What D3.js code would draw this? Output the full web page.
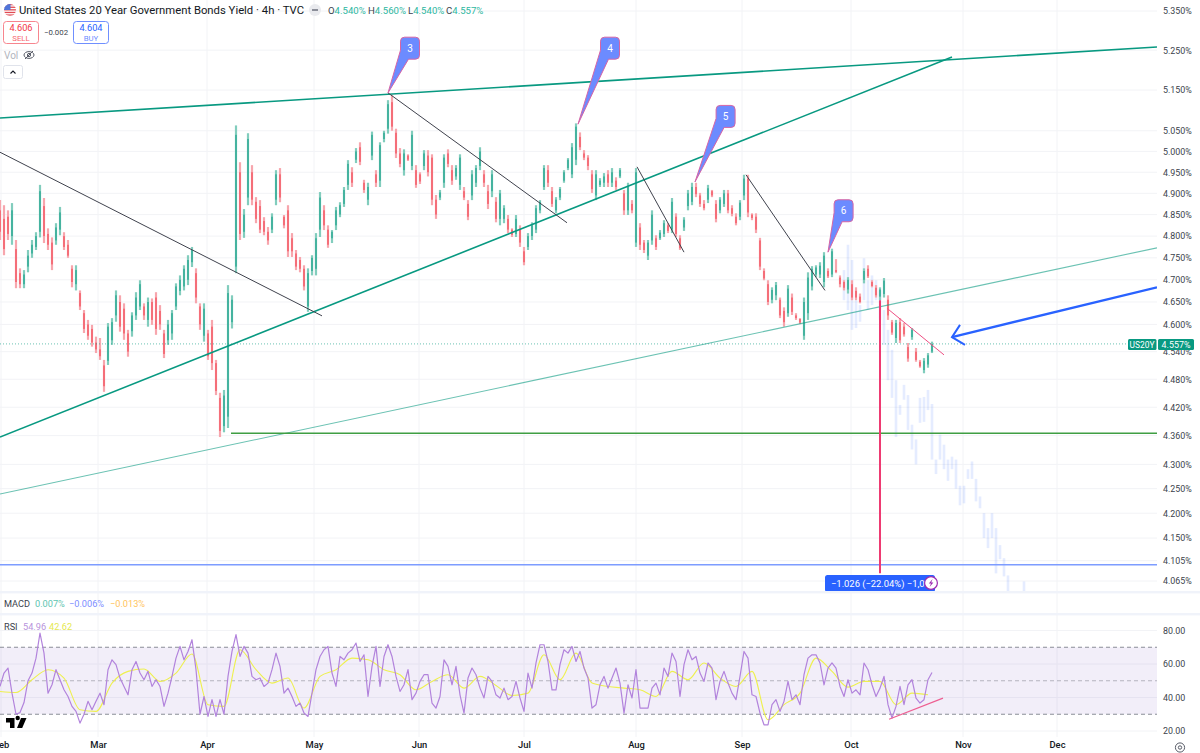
<!DOCTYPE html>
<html>
<head>
<meta charset="utf-8">
<title>US20Y</title>
<script src="https://cdn.jsdelivr.net/npm/d3@7/dist/d3.min.js"></script>
<style>
  html, body { margin: 0; padding: 0; background: #fff; overflow: hidden; }
  svg { display: block; font-family: Roboto, sans-serif; }
  .axis text { fill: #3b3f4c; font-size: 8.9px; font-family: Roboto, sans-serif; }
  .axis .domain { display: none; }
</style>
</head>
<body>
<div id="chart"></div>
<script>
// price candles, one column every 4px
const highs = [4.884,4.872,4.860,4.877,4.791,4.726,4.722,4.768,4.791,4.809,4.920,4.889,4.818,4.797,4.830,4.868,4.809,4.791,4.733,4.733,4.676,4.632,4.610,4.599,4.573,4.570,4.522,4.603,4.614,4.676,4.665,4.647,4.588,4.627,4.672,4.699,4.647,4.660,4.658,4.672,4.643,4.588,4.610,4.632,4.692,4.710,4.733,4.756,4.775,4.726,4.647,4.647,4.588,4.610,4.522,4.451,4.457,4.688,4.665,5.063,4.974,4.863,5.044,4.967,4.891,4.884,4.844,4.821,4.853,4.955,4.960,4.849,4.872,4.807,4.768,4.752,4.733,4.726,4.756,4.807,4.903,4.872,4.825,4.814,4.868,4.879,4.915,4.979,4.962,5.008,5.022,4.932,4.925,5.048,4.955,5.022,5.050,5.125,5.137,5.055,5.008,5.005,4.993,5.050,4.967,4.950,5.003,5.003,4.993,4.896,4.908,4.993,5.005,4.967,4.967,4.993,4.915,4.884,4.955,4.967,5.010,4.955,4.920,4.955,4.891,4.908,4.872,4.849,4.818,4.849,4.825,4.775,4.807,4.832,4.872,4.884,4.967,4.967,4.915,4.891,4.915,4.955,4.984,5.020,5.068,5.046,5.003,4.991,4.955,4.955,4.936,4.948,4.955,4.960,4.938,4.960,4.908,4.925,4.884,4.960,4.830,4.791,4.791,4.860,4.802,4.814,4.837,4.830,4.889,4.853,4.802,4.844,4.908,4.925,4.925,4.901,4.884,4.920,4.908,4.884,4.891,4.908,4.908,4.872,4.853,4.884,4.944,4.944,4.853,4.853,4.796,4.726,4.699,4.683,4.695,4.660,4.638,4.688,4.669,4.625,4.614,4.660,4.717,4.731,4.733,4.740,4.763,4.726,4.771,4.747,4.710,4.699,4.706,4.699,4.683,4.669,4.726,4.733,4.699,4.688,4.683,4.704,4.665,4.610,4.610,4.614,4.603,4.559,4.592,4.548,4.522,4.526,4.537,4.562];
const lows = [4.791,4.756,4.791,4.780,4.681,4.681,4.681,4.717,4.750,4.768,4.797,4.784,4.768,4.722,4.780,4.802,4.768,4.750,4.683,4.676,4.632,4.581,4.566,4.551,4.537,4.522,4.453,4.511,4.555,4.606,4.584,4.566,4.529,4.573,4.610,4.632,4.610,4.595,4.599,4.577,4.588,4.526,4.555,4.566,4.632,4.665,4.676,4.688,4.729,4.647,4.588,4.562,4.522,4.500,4.446,4.357,4.367,4.376,4.591,4.715,4.791,4.796,4.872,4.872,4.830,4.807,4.802,4.780,4.807,4.872,4.879,4.818,4.752,4.752,4.722,4.717,4.676,4.628,4.710,4.710,4.798,4.814,4.773,4.784,4.814,4.844,4.868,4.908,4.915,4.972,4.967,4.901,4.872,4.979,4.915,4.915,5.022,5.043,5.050,4.984,4.962,4.942,4.977,4.955,4.913,4.922,4.955,4.940,4.872,4.840,4.884,4.913,4.962,4.920,4.932,4.908,4.884,4.837,4.884,4.915,4.955,4.915,4.863,4.891,4.832,4.825,4.830,4.807,4.798,4.798,4.775,4.733,4.768,4.791,4.807,4.853,4.908,4.915,4.868,4.853,4.884,4.925,4.955,4.936,4.967,5.003,4.979,4.955,4.901,4.884,4.915,4.915,4.915,4.915,4.908,4.936,4.849,4.849,4.853,4.775,4.768,4.761,4.745,4.780,4.768,4.791,4.798,4.807,4.807,4.798,4.768,4.812,4.860,4.872,4.891,4.868,4.860,4.877,4.891,4.832,4.853,4.868,4.853,4.846,4.825,4.837,4.884,4.844,4.837,4.807,4.722,4.699,4.643,4.647,4.654,4.614,4.595,4.617,4.621,4.610,4.601,4.566,4.610,4.676,4.706,4.704,4.683,4.704,4.706,4.715,4.683,4.676,4.669,4.654,4.654,4.647,4.692,4.704,4.683,4.660,4.654,4.660,4.610,4.577,4.559,4.559,4.573,4.518,4.566,4.518,4.505,4.493,4.505,4.537];
const opens = [4.860,4.840,4.845,4.800,4.770,4.715,4.690,4.730,4.760,4.775,4.810,4.870,4.805,4.785,4.790,4.815,4.800,4.780,4.725,4.690,4.670,4.625,4.600,4.590,4.560,4.545,4.510,4.520,4.565,4.620,4.650,4.635,4.580,4.585,4.620,4.640,4.640,4.610,4.650,4.660,4.630,4.580,4.565,4.580,4.640,4.675,4.685,4.700,4.740,4.715,4.640,4.575,4.580,4.595,4.515,4.440,4.380,4.400,4.605,4.730,4.950,4.810,4.890,4.950,4.880,4.870,4.835,4.810,4.815,4.885,4.945,4.845,4.860,4.795,4.760,4.745,4.725,4.640,4.720,4.725,4.815,4.860,4.815,4.795,4.825,4.850,4.875,4.920,4.950,4.980,5.010,4.925,4.885,4.990,4.945,4.930,5.030,5.055,5.120,5.045,4.995,4.955,4.990,4.965,4.955,4.945,4.965,4.990,4.985,4.885,4.890,4.925,4.995,4.955,4.940,4.920,4.905,4.875,4.895,4.925,4.965,4.945,4.905,4.905,4.880,4.840,4.840,4.840,4.815,4.805,4.815,4.765,4.775,4.800,4.815,4.860,4.915,4.955,4.905,4.860,4.890,4.930,4.960,4.945,4.980,5.035,4.995,4.985,4.945,4.895,4.920,4.925,4.945,4.925,4.930,4.940,4.900,4.860,4.875,4.785,4.820,4.785,4.755,4.790,4.795,4.795,4.805,4.825,4.815,4.845,4.795,4.820,4.870,4.880,4.915,4.895,4.875,4.885,4.905,4.875,4.860,4.875,4.900,4.865,4.845,4.845,4.895,4.935,4.850,4.845,4.790,4.720,4.690,4.655,4.665,4.655,4.630,4.625,4.660,4.620,4.612,4.575,4.625,4.685,4.712,4.712,4.695,4.720,4.712,4.722,4.705,4.695,4.678,4.690,4.675,4.662,4.700,4.725,4.695,4.682,4.662,4.668,4.655,4.605,4.570,4.605,4.595,4.550,4.572,4.540,4.518,4.500,4.512,4.540];
const closes = [4.810,4.770,4.805,4.860,4.695,4.690,4.712,4.755,4.780,4.800,4.905,4.800,4.780,4.735,4.820,4.855,4.775,4.755,4.695,4.722,4.640,4.590,4.575,4.560,4.545,4.530,4.465,4.595,4.605,4.665,4.595,4.580,4.540,4.620,4.660,4.690,4.620,4.650,4.610,4.590,4.600,4.535,4.600,4.625,4.685,4.700,4.725,4.745,4.768,4.660,4.600,4.635,4.530,4.515,4.455,4.370,4.445,4.670,4.655,5.040,4.805,4.850,5.030,4.885,4.840,4.815,4.810,4.790,4.845,4.945,4.890,4.825,4.765,4.765,4.730,4.725,4.685,4.715,4.750,4.795,4.890,4.825,4.780,4.810,4.860,4.872,4.908,4.970,4.925,5.000,4.975,4.908,4.915,5.040,4.925,5.015,5.045,5.115,5.060,4.995,4.970,4.995,4.980,5.040,4.920,4.928,4.995,4.950,4.885,4.850,4.902,4.985,4.970,4.930,4.960,4.985,4.890,4.845,4.945,4.960,5.000,4.925,4.875,4.945,4.840,4.900,4.865,4.815,4.803,4.840,4.785,4.740,4.800,4.825,4.865,4.880,4.960,4.925,4.875,4.885,4.910,4.950,4.980,5.010,5.060,5.010,4.985,4.965,4.910,4.945,4.930,4.940,4.925,4.950,4.915,4.955,4.860,4.915,4.860,4.950,4.780,4.768,4.785,4.850,4.775,4.808,4.830,4.812,4.880,4.805,4.772,4.838,4.900,4.915,4.898,4.875,4.865,4.912,4.895,4.840,4.885,4.900,4.860,4.852,4.830,4.878,4.935,4.855,4.842,4.815,4.730,4.703,4.650,4.677,4.688,4.620,4.605,4.680,4.628,4.614,4.604,4.650,4.705,4.725,4.728,4.732,4.755,4.708,4.765,4.718,4.690,4.682,4.700,4.660,4.660,4.650,4.720,4.708,4.686,4.665,4.678,4.698,4.620,4.582,4.603,4.565,4.578,4.525,4.588,4.522,4.508,4.520,4.532,4.557];

// faded projected path, starts at bar 211
const ghostStart = 211;
const ghostHighs = [4.722,4.780,4.745,4.654,4.643,4.749,4.699,4.710,4.699,4.676,4.632,4.588,4.544,4.478,4.425,4.468,4.446,4.383,4.352,4.440,4.442,4.457,4.427,4.31,4.362,4.341,4.31,4.316,4.31,4.256,4.256,4.29,4.306,4.27,4.234,4.200,4.17,4.20,4.17,4.136,4.11,4.076,null,null,null,4.064];
const ghostLows = [4.654,4.632,4.588,4.592,4.606,4.654,4.632,4.643,4.654,4.610,4.555,4.478,4.44,4.357,4.404,4.436,4.372,4.331,4.30,4.387,4.389,4.414,4.31,4.28,4.31,4.29,4.266,4.29,4.25,4.216,4.22,4.27,4.27,4.224,4.21,4.15,4.13,4.15,4.08,4.108,4.074,4.04,null,null,null,4.04];

const rsiValues = [46.6,54.6,57.6,42.6,30,31,37,50,54.6,63.5,78.5,66.5,42.6,47.6,56.6,50.6,44.6,40.6,34.7,31.7,24.7,30,37.7,32.7,37.7,42.6,35.7,56.6,62.5,59.6,51.6,46.6,41.6,56.6,61.5,54.6,50.6,55.6,46.6,50.6,46.6,34.7,42.6,52.6,63.5,70.5,62.5,67.5,74.5,56.6,30,40.6,28.7,38.7,28.7,38.7,30,52.6,67.5,77.5,64.5,70.5,66.5,52.6,50.6,51.6,46.6,48.6,56.6,66.5,58.6,42.6,45.6,40.6,34.7,36.7,30.7,28.7,42.6,56.6,64.5,68.5,70.5,54.6,46.6,64.5,62.5,66.5,68.5,72.5,61.5,65.5,40.6,58.6,70.5,46.6,64.5,71.5,64.5,52.6,
  43.6,47.6,56.6,38.7,42.6,49.6,53.6,53.6,36.7,33.7,40.6,62.5,58.6,47.6,58.6,41.6,30.7,51.6,57.6,53.6,45.6,39.7,52.6,49.6,41.6,39.7,45.6,38.7,40.6,49.6,39.7,31.7,54.6,45.6,60.6,71.5,71.5,61.5,44.6,44.6,59.6,68.5,66.5,70.5,61.5,67.5,57.6,51.6,33.7,35.7,47.6,52.6,45.6,51.6,57.6,48.6,30.7,47.6,39.7,56.6,33.7,33.7,33.7,45.6,48.6,41.6,57.6,52.6,
  66.5,61.5,40.6,59.6,68.5,62.5,64.5,54.6,49.6,60.6,57.6,38.7,49.6,55.6,48.6,42.6,38.7,52.6,67.5,63.5,41.6,40.6,30.7,23.7,23.7,35.7,38.7,31.7,37.7,49.6,38.7,41.6,35.7,53.6,63.5,65.5,65.5,60.6,47.6,57.6,60.6,57.6,46.6,40.6,50.6,42.6,44.6,41.6,60.6,56.6,47.6,40.6,45.6,52.6,35.7,27.7,34.7,46.6,35.7,47.6,50.6,39.7,36.7,38.7,50.6,54.96];
// RSI moving average, one value every 4 bars
const rsiMaStep = 4;
const rsiMaValues = [43.6,43,50.6,56.6,51.6,32.7,31.7,48.6,55.6,57,49.6,54.6,66,35.7,34.7,68.5,56.6,48.6,51.6,33.7,52.6,56.6,63.5,62.5,56.6,
  53.6,44.6,49.6,53.6,45.6,52.6,47.2,41.2,42.6,65.5,50.6,66.5,48.6,46.6,45.6,44.6,40.6,
  55.6,50.6,60.6,51.6,46.6,55.6,26.7,35.7,42.6,63.5,55.6,46.2,49.6,49.6,35.7,42.6,41.6];

const priceTicks = [5.35,5.25,5.15,5.05,5.0,4.95,4.9,4.85,4.8,4.75,4.7,4.65,4.6,4.54,4.48,4.42,4.36,4.3,4.25,4.2,4.15,4.105,4.065];
const rsiTicks = [80,60,40,20];
const rsiBands = [70,50,30];
const monthLabels = ["Feb","Mar","Apr","May","Jun","Jul","Aug","Sep","Oct","Nov","Dec"];
const monthBars = [0.25,24.5,51.75,78.5,104.75,131,159,185.5,212.75,240.75,264.25];

// drawings, each end is [bar, yield]
const channelLines = [[[0,5.081],[289.25,5.258]],[[0,4.357],[238,5.233]]];
const thinChannel = [[0,4.239],[289.25,4.773]];
const blackLines = [
  [[0,4.998],[80.5,4.619]],
  [[97,5.143],[141.75,4.831]],
  [[159.25,4.963],[171,4.763]],
  [[186.5,4.944],[206.25,4.676]],
];
const pinkLine = [[221.75,4.636],[236,4.533]];
const supportYield = 4.365;
const supportStartBar = 57.75;
const targetYield = 4.097;
const lastPrice = 4.557;
const measureBar = 220;
const measureYields = [4.654,4.08];
const arrowShaft = [[289.25,4.683],[238,4.572]];
const arrowHead = [[240,4.599],[238,4.572],[241.25,4.555]];
const rsiTrend = [[222.25,27.0],[235.75,39.6]];

const calloutLabels = ["3","4","5","6"];
const calloutTips = [[97,5.143],[144.5,5.066],[173.75,4.927],[207,4.763]];
const calloutBoxes = [[102.5,5.255],[152.5,5.255],[181.4,5.085],[210.9,4.859]];

const width = 1200, height = 753;
const plotRight = 1157, axisX = 1163;
const pricePane = { top: 0, bottom: 591 };
const upWick = "#82cdbd", upBody = "#089981", downWick = "#f7a6ad", downBody = "#f23645";
const teal = "#089981", ink = "#131722", muted = "#3b3f4c";

const svg = d3.select("#chart").append("svg").attr("width", width).attr("height", height);

const x = d3.scaleLinear().domain([0, plotRight / 4]).range([0, plotRight]);
const y = d3.scaleLog().domain([4.065, 5.35]).range([581, 11]);
const rsiY = d3.scaleLinear().domain([20, 80]).range([731, 630.5]);

svg.append("defs").append("clipPath").attr("id", "price-clip")
  .append("rect").attr("width", plotRight).attr("height", pricePane.bottom);

// grid
svg.append("g").selectAll("line").data(monthBars).join("line")
  .attr("x1", d => x(d)).attr("x2", d => x(d)).attr("y1", 0).attr("y2", 737)
  .attr("stroke", "#f2f3f6");
svg.append("g").selectAll("line").data(priceTicks).join("line")
  .attr("x1", 0).attr("x2", plotRight).attr("y1", d => y(d)).attr("y2", d => y(d))
  .attr("stroke", "#f2f3f6");
svg.append("g").selectAll("line").data(rsiTicks).join("line")
  .attr("x1", 0).attr("x2", plotRight).attr("y1", d => rsiY(d)).attr("y2", d => rsiY(d))
  .attr("stroke", "#f2f3f6");

const price = svg.append("g").attr("clip-path", "url(#price-clip)");

// ghost path
price.append("g").selectAll("line")
  .data(ghostHighs.map((h, i) => ({ h, l: ghostLows[i], bar: ghostStart + i })).filter(d => d.h !== null))
  .join("line")
  .attr("x1", d => x(d.bar)).attr("x2", d => x(d.bar))
  .attr("y1", d => y(d.h)).attr("y2", d => y(d.l))
  .attr("stroke", "#2962ff").attr("stroke-opacity", 0.12).attr("stroke-width", 2.6);

// candles
const candles = highs.map((h, i) => ({ bar: i, h, l: lows[i], o: opens[i], c: closes[i] }));
price.append("g").selectAll("line").data(candles).join("line")
  .attr("x1", d => x(d.bar)).attr("x2", d => x(d.bar))
  .attr("y1", d => y(d.h)).attr("y2", d => y(d.l))
  .attr("stroke", d => d.c >= d.o ? upWick : downWick)
  .attr("stroke-width", 2.2);
price.append("g").selectAll("line").data(candles).join("line")
  .attr("x1", d => x(d.bar)).attr("x2", d => x(d.bar))
  .attr("y1", d => y(d.o)).attr("y2", d => y(d.c))
  .attr("stroke", d => d.c >= d.o ? upBody : downBody)
  .attr("stroke-width", 1);

// trend lines
const trendLine = d3.line().x(d => x(d[0])).y(d => y(d[1]));
const drawTrend = (pts, color, w, opacity = 1) =>
  price.append("path").attr("d", trendLine(pts)).attr("fill", "none")
    .attr("stroke", color).attr("stroke-width", w).attr("stroke-opacity", opacity);

channelLines.forEach(l => drawTrend(l, teal, 1.6));
drawTrend(thinChannel, teal, 1.1, 0.6);
blackLines.forEach(l => drawTrend(l, "#3f424d", 1));
drawTrend(pinkLine, "#ee4f83", 1);
drawTrend([[supportStartBar, supportYield], [x.domain()[1], supportYield]], "#3f9e43", 1.4);
drawTrend([[0, targetYield], [x.domain()[1], targetYield]], "#7d9cff", 1.5);
drawTrend([[0, lastPrice], [x.domain()[1], lastPrice]], teal, 1, 0.6).attr("stroke-dasharray", "1 2");
drawTrend([[measureBar, measureYields[0]], [measureBar, measureYields[1]]], "#ee3a72", 2);
drawTrend(arrowShaft, "#2962ff", 2.4);
drawTrend(arrowHead, "#2962ff", 2);

// numbered callouts
calloutLabels.forEach((label, i) => {
  const tx = x(calloutTips[i][0]), ty = y(calloutTips[i][1]);
  const cx = x(calloutBoxes[i][0]), cy = y(calloutBoxes[i][1]);
  const hw = 9.5, hh = 11, r = 4;
  const l = cx - hw, rgt = cx + hw, t = cy - hh, b = cy + hh;
  const p = d3.path();
  p.moveTo(l, cy + 2);
  p.lineTo(tx, ty);
  p.lineTo(l + 8, b);
  p.lineTo(rgt - r, b);
  p.quadraticCurveTo(rgt, b, rgt, b - r);
  p.lineTo(rgt, t + r);
  p.quadraticCurveTo(rgt, t, rgt - r, t);
  p.lineTo(l + r, t);
  p.quadraticCurveTo(l, t, l, t + r);
  p.closePath();
  svg.append("path").attr("d", p.toString()).attr("fill", "#6c8bff")
    .attr("stroke", "#d765a5").attr("stroke-width", 1);
  svg.append("text").attr("x", cx).attr("y", cy + 3.5).attr("text-anchor", "middle")
    .attr("fill", "#fff").attr("font-size", 10).text(label);
});

// measure label
svg.append("rect").attr("x", 825).attr("y", 575).attr("width", 110).attr("height", 17)
  .attr("rx", 2.5).attr("fill", "#2962ff");
svg.append("text").attr("x", 831).attr("y", 586.5).attr("fill", "#fff").attr("font-size", 9.4)
  .text("\u22121.026 (\u221222.04%) \u22121,02");
svg.append("circle").attr("cx", 931).attr("cy", 583).attr("r", 6.4)
  .attr("fill", "#fff").attr("stroke", "#9c27b0").attr("stroke-width", 1.2);
svg.append("path").attr("d", "M932.6 579 L928.8 583.6 L931 583.6 L929.6 587 L933.4 582.4 L931.2 582.4 Z")
  .attr("fill", "#9c27b0");

// price axis
svg.append("g").attr("class", "axis").attr("transform", `translate(${axisX - 3},0)`)
  .call(d3.axisRight(y).tickValues(priceTicks).tickSize(0).tickPadding(3).tickFormat(d => d.toFixed(3) + "%"));

// last price tags
svg.append("rect").attr("x", 1128).attr("y", 339).attr("width", 28.5).attr("height", 11).attr("rx", 1.5).attr("fill", teal);
svg.append("rect").attr("x", 1158).attr("y", 339).attr("width", 36).attr("height", 11).attr("rx", 1.5).attr("fill", teal);
svg.append("text").attr("x", 1142).attr("y", 347.5).attr("text-anchor", "middle").attr("fill", "#fff").attr("font-size", 8.4).text("US20Y");
svg.append("text").attr("x", 1176).attr("y", 347.5).attr("text-anchor", "middle").attr("fill", "#fff").attr("font-size", 8.9).text("4.557%");

// pane separators
[591, 613].forEach(t => svg.append("rect").attr("x", 0).attr("y", t).attr("width", width).attr("height", 2.4).attr("fill", "#f0f3fa"));

// RSI pane
svg.append("rect").attr("x", 0).attr("width", plotRight)
  .attr("y", rsiY(70)).attr("height", rsiY(30) - rsiY(70))
  .attr("fill", "#7e57c2").attr("fill-opacity", 0.1);
svg.append("g").selectAll("line").data(rsiBands).join("line")
  .attr("x1", 0).attr("x2", plotRight).attr("y1", d => rsiY(d)).attr("y2", d => rsiY(d))
  .attr("stroke", "#787b86").attr("stroke-dasharray", "4 3")
  .attr("stroke-opacity", d => d === 50 ? 0.5 : 0.85);
svg.append("path").datum(rsiMaValues).attr("fill", "none")
  .attr("stroke", "#eef04e").attr("stroke-width", 1.1)
  .attr("d", d3.line().x((d, i) => x(i * rsiMaStep)).y(d => rsiY(d)).curve(d3.curveMonotoneX));
svg.append("path").datum(rsiValues).attr("fill", "none")
  .attr("stroke", "#b283dc").attr("stroke-width", 1.2).attr("stroke-linejoin", "round")
  .attr("d", d3.line().x((d, i) => x(i)).y(d => rsiY(d)));
svg.append("path").attr("fill", "none").attr("stroke", "#ee5f92").attr("stroke-width", 1.2)
  .attr("d", d3.line().x(d => x(d[0])).y(d => rsiY(d[1]))(rsiTrend));

svg.append("g").attr("class", "axis").attr("transform", `translate(${axisX - 3},0)`)
  .call(d3.axisRight(rsiY).tickValues(rsiTicks).tickSize(0).tickPadding(3).tickFormat(d => d.toFixed(2)));

// time axis
const timeAxis = svg.append("g").attr("class", "axis").attr("transform", "translate(0,739)")
  .call(d3.axisBottom(x).tickValues(monthBars).tickSize(0).tickPadding(2).tickFormat((d, i) => monthLabels[i]));
timeAxis.selectAll("text").attr("font-weight", 500).style("fill", ink).style("font-size", "9.4px");

// legend rows
const legendText = (tx, ty, text, color, size = 9.2, extra = {}) => {
  const el = svg.append("text").attr("x", tx).attr("y", ty).attr("fill", color).attr("font-size", size).text(text);
  Object.entries(extra).forEach(([k, v]) => el.attr(k, v));
  return el;
};
legendText(4, 606.5, "MACD", muted);
legendText(35, 606.5, "0.007%", "#5cc4b0");
legendText(69, 606.5, "\u22120.006%", "#7b8cff");
legendText(110, 606.5, "\u22120.013%", "#ffc45c");
legendText(4, 630, "RSI", muted);
legendText(23, 630, "54.96", "#b893dc");
legendText(49, 630, "42.62", "#e5e84f");

// header
const flag = svg.append("g");
flag.append("defs").append("clipPath").attr("id", "flag-clip").append("circle").attr("cx", 10).attr("cy", 10).attr("r", 6);
const flagBody = flag.append("g").attr("clip-path", "url(#flag-clip)");
flagBody.append("rect").attr("x", 4).attr("y", 4).attr("width", 12).attr("height", 12).attr("fill", "#fff");
[4, 6.6, 9.2, 11.8, 14.4].forEach(t => flagBody.append("rect").attr("x", 4).attr("y", t).attr("width", 12).attr("height", 1.3).attr("fill", "#e04a52"));
flagBody.append("rect").attr("x", 4).attr("y", 4).attr("width", 6.5).attr("height", 6).attr("fill", "#4f74d8");

legendText(19, 14.4, "United States 20 Year Government Bonds Yield \u00b7 4h \u00b7 TVC", ink, 11.3);
svg.append("circle").attr("cx", 315).attr("cy", 10).attr("r", 6).attr("fill", "#e9eaee");
svg.append("rect").attr("x", 312).attr("y", 9).attr("width", 6).attr("height", 2).attr("fill", "#8b8e99");
const ohlc = [["O", "4.540%", 328], ["H", "4.560%", 368], ["L", "4.540%", 408], ["C", "4.557%", 446]];
ohlc.forEach(([k, v, ox]) => {
  const t = legendText(ox, 14, k, muted, 9.6);
  t.append("tspan").attr("fill", "#2db79f").text(v);
});

svg.append("rect").attr("x", 3.5).attr("y", 21.5).attr("width", 35).attr("height", 22).attr("rx", 3)
  .attr("fill", "#fff").attr("stroke", "#f7858e");
legendText(21, 31, "4.606", "#f23645", 9.2, { "text-anchor": "middle" });
legendText(21, 40.5, "SELL", "#f7656f", 7.8, { "text-anchor": "middle" });
legendText(56, 35, "\u22120.002", muted, 7.8, { "text-anchor": "middle" });
svg.append("rect").attr("x", 73.5).attr("y", 21.5).attr("width", 35).attr("height", 22).attr("rx", 3)
  .attr("fill", "#fff").attr("stroke", "#6f8fff");
legendText(91, 31, "4.604", "#2962ff", 9.2, { "text-anchor": "middle" });
legendText(91, 40.5, "BUY", "#6f8fff", 7.8, { "text-anchor": "middle" });

legendText(4, 58.5, "Vol", "#b2b5be", 10);
const eye = svg.append("g").attr("fill", "none").attr("stroke", "#565a66").attr("stroke-width", 1);
eye.append("ellipse").attr("cx", 29).attr("cy", 55).attr("rx", 5).attr("ry", 3.4);
eye.append("circle").attr("cx", 29).attr("cy", 55).attr("r", 1.6);
eye.append("line").attr("x1", 25).attr("y1", 59).attr("x2", 33).attr("y2", 51);

svg.append("rect").attr("x", 3.5).attr("y", 65.5).attr("width", 19).attr("height", 13).attr("rx", 2)
  .attr("fill", "#fff").attr("stroke", "#e0e3eb");
svg.append("path").attr("d", "M10.5 73.5 L13 71 L15.5 73.5").attr("fill", "none").attr("stroke", "#131722").attr("stroke-width", 1.1);

// watermark
svg.append("path").attr("fill", "#000")
  .attr("d", "M6 718 H14.5 V728 H10 V722.4 H6 Z M15.5 718 a2.2 2.2 0 1 0 4.4 0 a2.2 2.2 0 1 0 -4.4 0 Z M21 718 H26.5 L22.2 728 H17 Z");

// settings icon
const gear = svg.append("g").attr("fill", "none").attr("stroke", "#565a66");
gear.append("circle").attr("cx", 1180).attr("cy", 747.5).attr("r", 4.6);
gear.append("circle").attr("cx", 1180).attr("cy", 747.5).attr("r", 1.7);
</script>
</body>
</html>
